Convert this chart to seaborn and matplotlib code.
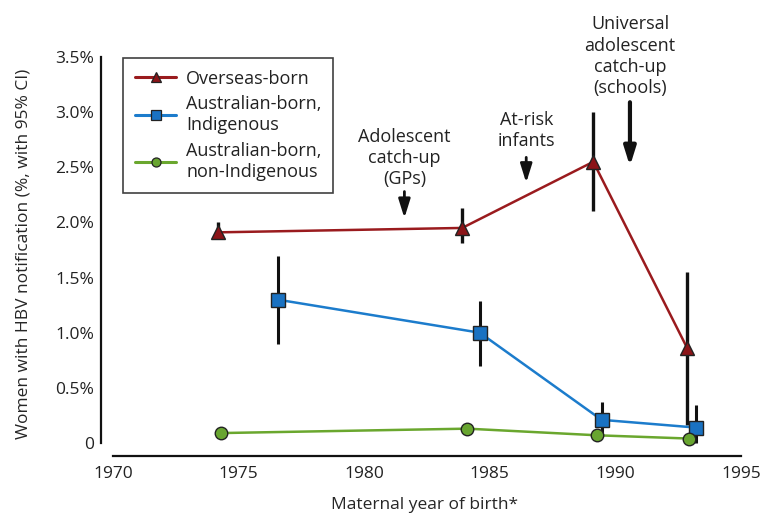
import numpy as np
import pandas as pd
import seaborn as sns
import matplotlib.pyplot as plt
from matplotlib.lines import Line2D

# Data (maternal year of birth, % women with HBV notification)
over_year = [1974.17, 1983.9, 1989.12, 1992.86]
over_val = [1.91, 1.95, 2.55, 0.86]
over_lo = [1.85, 1.81, 2.10, 0.16]
over_hi = [2.00, 2.13, 3.00, 1.55]

ind_year = [1976.55, 1984.6, 1989.45, 1993.2]
ind_val = [1.30, 1.00, 0.21, 0.14]
ind_lo = [0.90, 0.70, 0.05, 0.00]
ind_hi = [1.70, 1.29, 0.37, 0.34]

non_year = [1974.3, 1984.1, 1989.25, 1992.95]
non_val = [0.09, 0.13, 0.07, 0.04]

groups = ['Overseas-born', 'Australian-born,\nIndigenous', 'Australian-born,\nnon-Indigenous']
colors = ['#9a1b1e', '#1c7ccc', '#6aa72e']
face = ['#8b1418', '#1a72c2', '#68a530']
markers = ['^', 's', 'o']
msizes = [10.5, 9.5, 9]

x_ticks = [1970, 1975, 1980, 1985, 1990, 1995]
y_ticks = [0, 0.5, 1.0, 1.5, 2.0, 2.5, 3.0, 3.5]
y_labels = ['0', '0.5%', '1.0%', '1.5%', '2.0%', '2.5%', '3.0%', '3.5%']

notes = ['Adolescent\ncatch-up\n(GPs)', 'At-risk\ninfants', 'Universal\nadolescent\ncatch-up\n(schools)']
note_x = [1981.6, 1986.45, 1990.58]
note_tail = [2.28, 2.59, 3.09]
note_tip = [2.04, 2.36, 2.51]
note_text_y = [2.31, 2.66, 3.14]

sns.set_style('white')
plt.rcParams['font.family'] = ['Open Sans', 'DejaVu Sans']
plt.rcParams['text.color'] = '#222222'
fs = 12.5

df = pd.concat([
    pd.DataFrame({'year': over_year, 'val': over_val, 'group': groups[0]}),
    pd.DataFrame({'year': ind_year, 'val': ind_val, 'group': groups[1]}),
    pd.DataFrame({'year': non_year, 'val': non_val, 'group': groups[2]}),
])

fig = plt.figure(figsize=(7.68, 5.15), dpi=100)
ax = fig.add_axes([101 / 768, 1 - 456 / 515, (748.5 - 101) / 768, (456 - 51.5) / 515])

# confidence intervals
ax.vlines(over_year, over_lo, over_hi, color='#111111', lw=2.4, zorder=1.5)
ax.vlines(ind_year, ind_lo, ind_hi, color='#111111', lw=2.2, zorder=1.5)

for i, g in enumerate(groups):
    sub = df[df['group'] == g]
    sns.lineplot(data=sub, x='year', y='val', ax=ax, color=colors[i], lw=1.8,
                 marker=markers[i], markersize=msizes[i], markerfacecolor=face[i],
                 markeredgecolor='#222222', markeredgewidth=1.0, zorder=2, sort=False)

ax.set_xlim(1969.52, 1995.3)
ax.set_ylim(-0.118, 3.55)
ax.set_xticks(x_ticks)
ax.set_yticks(y_ticks)
ax.set_yticklabels(y_labels)
ax.tick_params(axis='both', direction='in', length=4, width=1.3, color='#111111',
               labelsize=fs, labelcolor='#222222')
ax.tick_params(axis='x', pad=7)
ax.tick_params(axis='y', pad=5)
sns.despine(ax=ax)
for s in ['left', 'bottom']:
    ax.spines[s].set_color('#111111')
    ax.spines[s].set_linewidth(1.6)
ax.spines['left'].set_bounds(0, 3.5)
ax.spines['bottom'].set_bounds(1970, 1995)

ax.set_xlabel('Maternal year of birth*', fontsize=fs, labelpad=11)
ax.set_ylabel('Women with HBV notification (%, with 95% CI)', fontsize=fs, labelpad=17)

for i, t in enumerate(notes):
    ax.text(note_x[i], note_text_y[i], t, ha='center', va='bottom', fontsize=13,
            linespacing=1.22, clip_on=False)
    ax.annotate('', xy=(note_x[i], note_tip[i]), xytext=(note_x[i], note_tail[i]),
                arrowprops=dict(arrowstyle='-|>,head_length=0.8,head_width=0.25',
                                color='#111111', lw=3 if i == 2 else 2, mutation_scale=14,
                                shrinkA=0, shrinkB=0), annotation_clip=False)

handles = [Line2D([0], [0], color=colors[i], lw=2.2, marker=markers[i], markersize=6.5,
                  markerfacecolor=face[i], markeredgecolor='#222222', markeredgewidth=0.9)
           for i in range(3)]
leg = ax.legend(handles, groups, loc='upper left', bbox_to_anchor=(123 / 768, 1 - 58 / 515),
                bbox_transform=fig.transFigure, fontsize=13, frameon=True, fancybox=False,
                handlelength=2.3, handletextpad=0.55, labelspacing=0.4, borderpad=0.65,
                borderaxespad=0)
leg.get_frame().set_edgecolor('#111111')
leg.get_frame().set_linewidth(1.2)
for txt in leg.get_texts():
    txt.set_linespacing(1.25)

fig.savefig('out.png', dpi=100)
